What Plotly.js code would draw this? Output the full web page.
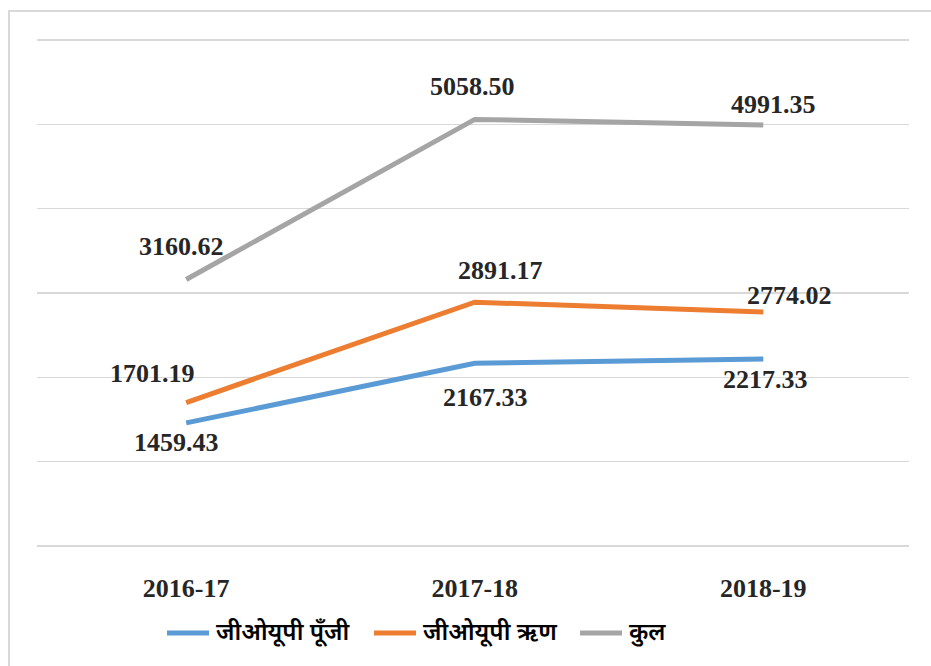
<!DOCTYPE html>
<html><head><meta charset="utf-8">
<script src="https://cdn.plot.ly/plotly-3.0.1.min.js"></script>
<style>
html,body{margin:0;padding:0;overflow:hidden;background:#fff;}
#frame{position:absolute;left:8px;top:10px;width:960px;height:700px;border:2px solid #d9d9d9;box-sizing:border-box;}
#chart{position:absolute;left:0;top:0;width:931px;height:666px;}
</style></head>
<body>
<div id="frame"></div>
<div id="chart"></div>
<script>
var categories = ['2016-17', '2017-18', '2018-19'];
var seriesNames = ['जीओयूपी पूँजी', 'जीओयूपी ऋण', 'कुल'];
var equity = [1459.43, 2167.33, 2217.33];
var debt = [1701.19, 2891.17, 2774.02];
var total = [3160.62, 5058.50, 4991.35];
var labels = [['1459.43','2167.33','2217.33'],['1701.19','2891.17','2774.02'],['3160.62','5058.50','4991.35']];

var colors = ['#5B9BD5', '#ED7D31', '#A5A5A5'];
var values = [equity, debt, total];
// label offsets in pixels (layout only)
var offX = [[-10, 11, 2], [-34, 26, 26], [-5, -2, 10]];
var offY = [[-20, -34, -20], [29, 32, 17], [33, 33, 21]];
// custom legend layout (pixels)
var legLineX = [167, 374, 580];
var legLineLen = 42;
var legY = 633;

var W = 931, H = 666, M = {l: 37, r: 22, t: 37, b: 117};
var pw = W - M.l - M.r, ph = H - M.t - M.b;
function px2x(p){ return (p - M.l) / pw; }
function py2y(p){ return 1 - (p - M.t) / ph; }

var traces = values.map(function(v, i){
  return {x: categories, y: v, type: 'scatter', mode: 'lines', name: seriesNames[i],
    line: {color: colors[i], width: 5}, hoverinfo: 'skip', showlegend: false};
});
var annotations = [];
values.forEach(function(v, i){
  v.forEach(function(val, j){
    annotations.push({x: j, y: val, xref: 'x', yref: 'y', text: '<b>' + labels[i][j] + '</b>', showarrow: false,
      xshift: offX[i][j], yshift: offY[i][j],
      font: {family: 'Liberation Serif, Times New Roman, serif', size: 26, color: '#262626'}});
  });
});
var shapes = [];
seriesNames.forEach(function(n, i){
  shapes.push({type: 'line', xref: 'paper', yref: 'paper',
    x0: px2x(legLineX[i]), x1: px2x(legLineX[i] + legLineLen), y0: py2y(legY), y1: py2y(legY),
    line: {color: colors[i], width: 5}});
  annotations.push({xref: 'paper', yref: 'paper', x: px2x(legLineX[i] + legLineLen + 5), y: py2y(legY + 1),
    xanchor: 'left', yanchor: 'middle', showarrow: false, text: n,
    font: {family: 'Noto Sans Devanagari, Noto Sans, sans-serif', size: 24, color: '#000', weight: 600}});
});
var layout = {
  width: W, height: H,
  margin: M,
  paper_bgcolor: 'rgba(0,0,0,0)', plot_bgcolor: 'rgba(0,0,0,0)',
  showlegend: false,
  xaxis: {type: 'category', range: [-0.517, 2.505], showgrid: false, zeroline: false, showline: false,
    ticks: '', ticklabelstandoff: 21,
    tickfont: {family: 'Liberation Serif, Times New Roman, serif', size: 26, color: '#262626', weight: 'bold'}},
  yaxis: {range: [-36, 6036], tickvals: [0, 1000, 2000, 3000, 4000, 5000, 6000], showticklabels: false, showgrid: true,
    gridcolor: '#d9d9d9', gridwidth: 1.5, zeroline: false, showline: false, ticks: ''},
  shapes: shapes,
  annotations: annotations
};
Plotly.newPlot('chart', traces, layout, {displayModeBar: false, staticPlot: true});
</script>
</body></html>
